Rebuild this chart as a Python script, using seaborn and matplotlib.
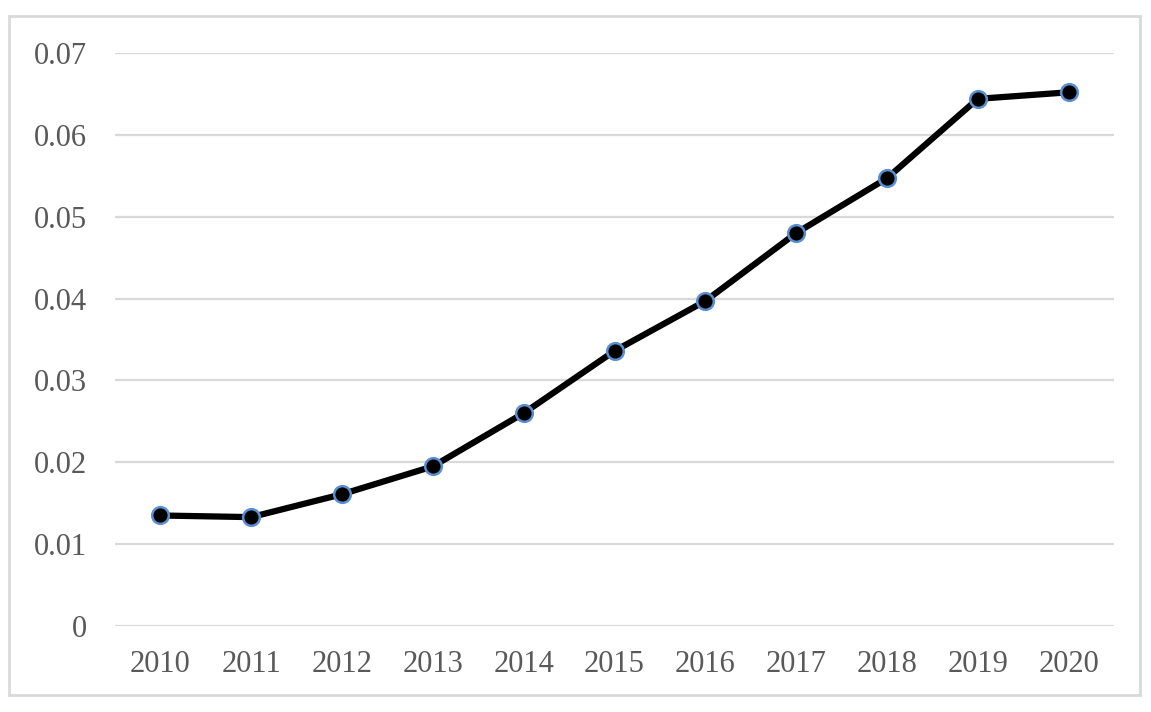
import pandas as pd
import numpy as np
import matplotlib.pyplot as plt
import matplotlib.patches as patches
import seaborn as sns

# Values
years = ['2010', '2011', '2012', '2013', '2014', '2015',
         '2016', '2017', '2018', '2019', '2020']
values = [0.0135, 0.0133, 0.0161, 0.0195, 0.0260, 0.0336,
          0.0397, 0.0480, 0.0547, 0.0644, 0.0652]
yticks = [0, 0.01, 0.02, 0.03, 0.04, 0.05, 0.06, 0.07]
ytick_labels = ['0', '0.01', '0.02', '0.03', '0.04', '0.05', '0.06', '0.07']

df = pd.DataFrame({'year': years, 'value': values})

sns.set_style('white')
plt.rcParams['font.family'] = ['Liberation Serif', 'DejaVu Serif']

fig = plt.figure(figsize=(11.51, 7.12), dpi=100)
ax = fig.add_axes([115 / 1151, 1 - 626 / 712, (1114 - 115) / 1151, (626 - 53) / 712])

sns.lineplot(data=df, x='year', y='value', ax=ax, color='black',
             linewidth=4.5, marker='o', markersize=12,
             markerfacecolor='black', markeredgecolor='#5b8fd0',
             markeredgewidth=1.8, zorder=3)

ax.set_xlim(-0.5, len(years) - 0.5)
ax.set_ylim(0, 0.07)
ax.set_yticks(yticks)
ax.set_yticklabels(ytick_labels)
ax.yaxis.grid(True, color='#d9d9d9', linewidth=1.6)
ax.set_axisbelow(True)
for s in ax.spines.values():
    s.set_visible(False)
ax.tick_params(axis='both', length=0, labelsize=22, labelcolor='#595959')
ax.tick_params(axis='y', pad=20)
ax.tick_params(axis='x', pad=17)
ax.set_xlabel('')
ax.set_ylabel('')

# light frame around the chart
fig.patches.append(patches.Rectangle((9 / 1151, 1 - 695 / 712), 1131 / 1151, 679 / 712,
                                     transform=fig.transFigure, fill=False,
                                     edgecolor='#d9d9d9', linewidth=2))

fig.savefig('out.png', dpi=100)
